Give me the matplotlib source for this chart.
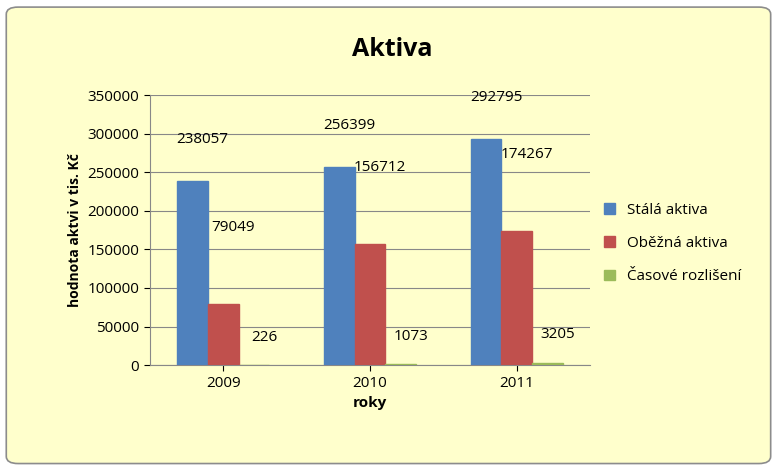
import numpy as np
import matplotlib.pyplot as plt
from matplotlib.patches import FancyBboxPatch

years = ["2009", "2010", "2011"]
series = ["Stálá aktiva", "Oběžná aktiva", "Časové rozlišení"]
stala = [238057, 256399, 292795]
obezna = [79049, 156712, 174267]
casove = [226, 1073, 3205]
colors = ["#4F81BD", "#C0504D", "#9BBB59"]

plt.rcParams['font.family'] = ['Open Sans', 'DejaVu Sans']

fig = plt.figure(figsize=(7.84, 4.73), dpi=100)
fig.patch.set_facecolor("white")
bg = FancyBboxPatch((0.008, 0.02), 0.975, 0.965, boxstyle="round,pad=0,rounding_size=0.015",
                    transform=fig.transFigure, facecolor="#FFFFCC", edgecolor="#8C8C8C", lw=1.2,
                    zorder=-10)
fig.add_artist(bg)

ax = fig.add_axes([0.191, 0.228, 0.562, 0.571])
ax.set_facecolor("none")
ax.set_zorder(5)
x = np.arange(len(years))
w = 0.21
offsets = [30, 55, 20]
for i, (vals, c) in enumerate(zip([stala, obezna, casove], colors)):
    pos = x + (i - 1) * w
    ax.bar(pos, vals, w, color=c, label=series[i], edgecolor=c, zorder=3)
    for p, v in zip(pos, vals):
        ax.annotate(str(v), (p + 0.07, v), xytext=(0, offsets[i]), textcoords="offset points",
                    ha="center", va="center", fontsize=11, zorder=4)

ax.set_ylim(0, 350000)
ax.set_xlim(-0.5, 2.5)
ax.set_yticks(range(0, 350001, 50000))
ax.set_xticks(x, years)
ax.tick_params(labelsize=11, length=4)
ax.grid(axis="y", color="#888888", lw=0.8, zorder=0)
for s in ["top", "right"]:
    ax.spines[s].set_visible(False)
ax.spines["left"].set_color("#888888")
ax.spines["bottom"].set_color("#888888")
ax.set_xlabel("roky", fontsize=11, fontweight="bold")
ax.set_ylabel("hodnota aktvi v tis. Kč", fontsize=10, fontweight="bold")
fig.text(0.5, 0.895, "Aktiva", ha="center", va="center", fontsize=18, fontweight="bold")
ax.legend(loc="center left", bbox_to_anchor=(1.0, 0.45), frameon=False, fontsize=11,
          handlelength=0.7, handleheight=0.7, labelspacing=1.2)
fig.savefig("out.png", dpi=100)
